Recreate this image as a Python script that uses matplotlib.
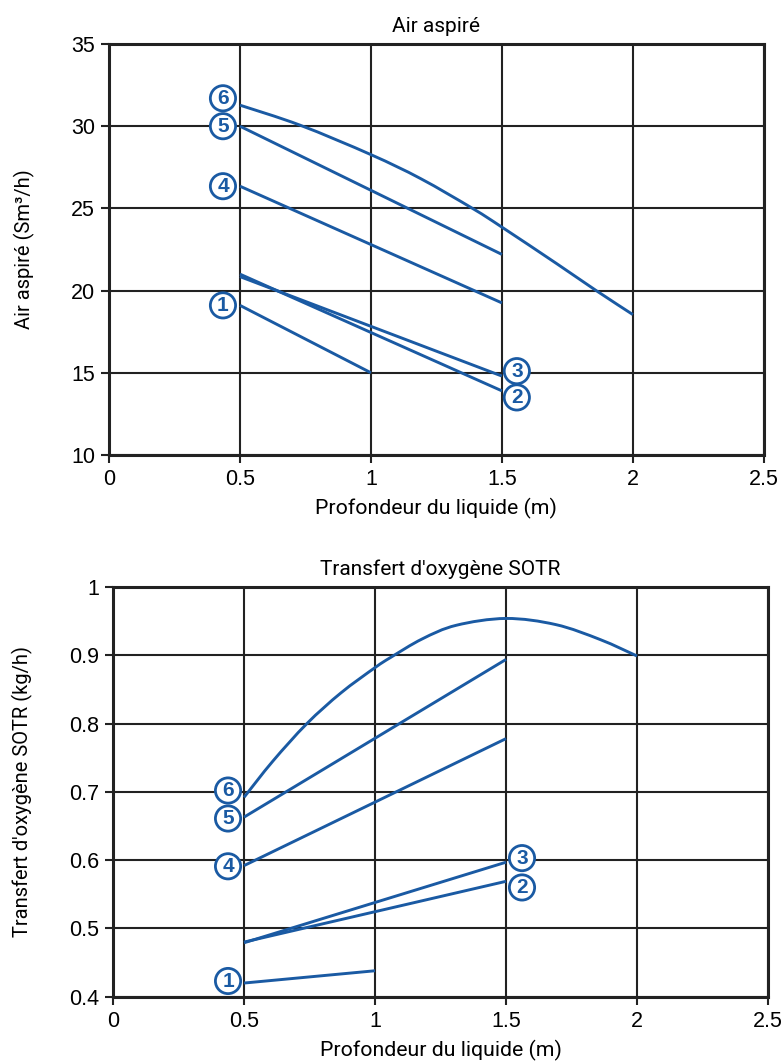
import matplotlib
matplotlib.use("Agg")
import matplotlib.pyplot as plt
from matplotlib.path import Path
from matplotlib.patches import PathPatch

# ---- data ----
depth_air = {
    "1": [0.5, 1.0],
    "2": [0.5, 1.5],
    "3": [0.5, 1.5],
    "4": [0.5, 1.5],
    "5": [0.5, 1.5],
    "6": [0.5, 0.73, 1.0, 1.19, 1.39, 1.5, 1.71, 1.86, 2.0],
}
air_1 = [19.1, 15.0]
air_2 = [21.0, 13.9]
air_3 = [20.85, 14.8]
air_4 = [26.35, 19.25]
air_5 = [30.0, 22.2]
air_6 = [31.28, 30.06, 28.27, 26.81, 24.98, 23.86, 21.63, 20.0, 18.54]

depth_sotr = {
    "1": [0.5, 1.0],
    "2": [0.5, 1.5],
    "3": [0.5, 1.5],
    "4": [0.5, 1.5],
    "5": [0.5, 1.5],
    "6": [0.5, 0.61, 0.74, 0.87, 1.0, 1.06, 1.18, 1.31, 1.5, 1.69, 1.86, 2.0],
}
sotr_1 = [0.42, 0.438]
sotr_2 = [0.48, 0.569]
sotr_3 = [0.479, 0.597]
sotr_4 = [0.592, 0.778]
sotr_5 = [0.663, 0.894]
sotr_6 = [0.692, 0.745, 0.800, 0.845, 0.882, 0.897, 0.924, 0.944, 0.954, 0.945, 0.923, 0.899]

x_ticks = [0, 0.5, 1, 1.5, 2, 2.5]
x_ticklabels = ["0", "0.5", "1", "1.5", "2", "2.5"]
air_yticks = [10, 15, 20, 25, 30, 35]
sotr_yticks = [0.4, 0.5, 0.6, 0.7, 0.8, 0.9, 1.0]
sotr_yticklabels = ["0.4", "0.5", "0.6", "0.7", "0.8", "0.9", "1"]

# label positions (data coords)
air_labels = {"6": (0.435, 31.7), "5": (0.435, 30.0), "4": (0.435, 26.35),
              "1": (0.435, 19.1), "3": (1.557, 15.1), "2": (1.557, 13.5)}
sotr_labels = {"6": (0.439, 0.702), "5": (0.439, 0.661), "4": (0.439, 0.591),
               "1": (0.439, 0.423), "3": (1.561, 0.603), "2": (1.561, 0.560)}

BLUE = "#1a5aa3"
TICKFONT = "Liberation Sans"
LABFONT = "Roboto"

fig = plt.figure(figsize=(7.81, 10.61), dpi=100)
ax1 = fig.add_axes([0.1396, 0.5712, 0.978 - 0.1396, 0.9585 - 0.5712])
ax2 = fig.add_axes([0.1447, 0.0606, 0.9834 - 0.1447, 0.4467 - 0.0606])


def style(ax, yticks, yticklabels, ylim, title, ylabel):
    ax.set_xlim(0, 2.5)
    ax.set_ylim(*ylim)
    ax.set_xticks(x_ticks)
    ax.set_xticklabels(x_ticklabels, fontfamily=TICKFONT, fontsize=15.5)
    ax.set_yticks(yticks)
    ax.set_yticklabels(yticklabels, fontfamily=TICKFONT, fontsize=15.5)
    ax.tick_params(direction="out", length=6, width=1.5, color="#222222", pad=4)
    ax.grid(True, color="#222222", linewidth=1.5)
    ax.set_axisbelow(True)
    for s in ax.spines.values():
        s.set_color("#222222")
        s.set_linewidth(2.2)
    ax.set_title(title, fontfamily=LABFONT, fontsize=15, pad=9)
    ax.set_xlabel("Profondeur du liquide (m)", fontfamily=LABFONT, fontsize=15.3, labelpad=6)
    ax.set_ylabel(ylabel, fontfamily=LABFONT, fontsize=14.5, labelpad=26)


def smooth_path(xs, ys):
    """Catmull-Rom curve through the read points, as cubic Bezier segments."""
    pts = list(zip(xs, ys))
    verts = [pts[0]]
    codes = [Path.MOVETO]
    n = len(pts)
    for i in range(n - 1):
        p0 = pts[i - 1] if i > 0 else pts[i]
        p1 = pts[i]
        p2 = pts[i + 1]
        p3 = pts[i + 2] if i + 2 < n else pts[i + 1]
        c1 = (p1[0] + (p2[0] - p0[0]) / 6.0, p1[1] + (p2[1] - p0[1]) / 6.0)
        c2 = (p2[0] - (p3[0] - p1[0]) / 6.0, p2[1] - (p3[1] - p1[1]) / 6.0)
        verts += [c1, c2, p2]
        codes += [Path.CURVE4] * 3
    return Path(verts, codes)


def draw(ax, depth, series, labels):
    for k, vals in series.items():
        if len(vals) > 2:
            patch = PathPatch(smooth_path(depth[k], vals), fill=False, edgecolor=BLUE,
                              linewidth=2.1, capstyle="butt", joinstyle="round",
                              transform=ax.transData, clip_on=False, zorder=3)
            ax.add_patch(patch)
        else:
            ax.plot(depth[k], vals, color=BLUE, linewidth=2.1, solid_capstyle="butt",
                    clip_on=False, zorder=3)
    for k, (x, y) in labels.items():
        ax.text(x, y, k, ha="center", va="center", color=BLUE, fontsize=15,
                fontweight="bold", fontfamily=TICKFONT, zorder=4,
                bbox=dict(boxstyle="circle,pad=0.15", fc="white", ec=BLUE, lw=2.0))


style(ax1, air_yticks, [str(v) for v in air_yticks], (10, 35), "Air aspiré",
      "Air aspiré (Sm³/h)")
draw(ax1, depth_air, {"1": air_1, "2": air_2, "3": air_3, "4": air_4, "5": air_5, "6": air_6},
     air_labels)

style(ax2, sotr_yticks, sotr_yticklabels, (0.4, 1.0), "Transfert d'oxygène SOTR",
      "Transfert d'oxygène SOTR (kg/h)")
draw(ax2, depth_sotr, {"1": sotr_1, "2": sotr_2, "3": sotr_3, "4": sotr_4, "5": sotr_5, "6": sotr_6},
     sotr_labels)

fig.savefig("out.png", dpi=100)
